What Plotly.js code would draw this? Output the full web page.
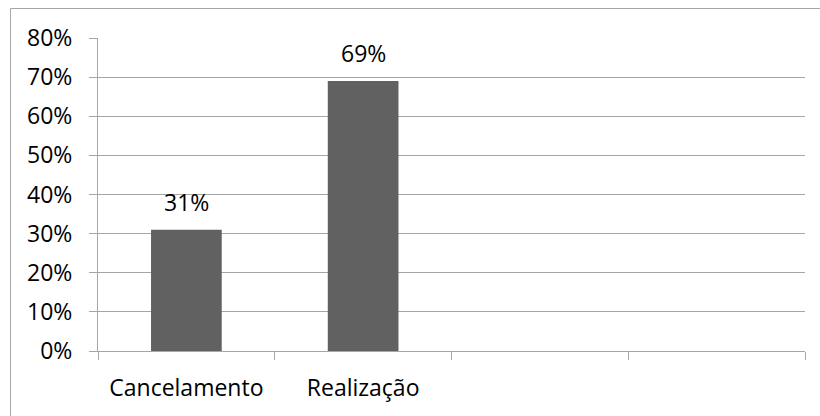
<!DOCTYPE html>
<html>
<head>
<meta charset="utf-8">
<script src="https://cdn.plot.ly/plotly-3.0.1.min.js"></script>
<style>
  html, body { margin: 0; padding: 0; background: #fff; }
  #chart { width: 820px; height: 416px; }
</style>
</head>
<body>
<div id="chart"></div>
<script>
// Share of events by outcome; the two trailing slots are empty categories.
const categories = ['Cancelamento', 'Realização', ' ', '  '];
const shares = [0.31, 0.69, null, null];
const labels = ['31%', '69%'];
const yTicks = [0, 0.1, 0.2, 0.3, 0.4, 0.5, 0.6, 0.7, 0.8];

const FONT = { family: 'Open Sans, sans-serif', size: 23, color: '#000' };
const GRID = '#a6a6a6';

const bars = {
  type: 'bar',
  x: categories,
  y: shares,
  marker: { color: '#616161', line: { width: 0 } },
  hoverinfo: 'skip'
};

// Value labels sit above each bar
const valueNotes = labels.map((t, i) => ({
  x: categories[i], y: shares[i], xref: 'x', yref: 'y',
  text: t, showarrow: false, yanchor: 'bottom', yshift: 10,
  font: FONT
}));

// Chart-area frame (top and left edges visible)
const frame = {
  type: 'rect', xref: 'paper', yref: 'paper',
  x0: (10.5 - 98) / 707, x1: 1.2,
  y0: -0.3, y1: (351 - 8.5) / 313,
  line: { color: GRID, width: 1 }, fillcolor: 'rgba(0,0,0,0)'
};

const layout = {
  width: 820, height: 416,
  margin: { l: 98, r: 15, t: 38, b: 65, pad: 0 },
  paper_bgcolor: '#fff', plot_bgcolor: '#fff',
  font: FONT,
  showlegend: false,
  bargap: 0.6,
  xaxis: {
    type: 'category',
    categoryorder: 'array', categoryarray: categories,
    range: [-0.5, 3.5],
    tickson: 'boundaries',
    ticks: 'outside', ticklen: 8, tickcolor: GRID, tickwidth: 1,
    showgrid: false, zeroline: false,
    showline: true, linecolor: GRID, linewidth: 1,
    ticklabelstandoff: 16,
    tickfont: FONT, fixedrange: true
  },
  yaxis: {
    range: [0, 0.8],
    tickvals: yTicks,
    tickformat: '.0%',
    ticks: 'outside', ticklen: 8, tickcolor: GRID, tickwidth: 1,
    showgrid: true, gridcolor: GRID, gridwidth: 1,
    zeroline: false,
    showline: true, linecolor: GRID, linewidth: 1,
    ticklabelstandoff: 12,
    tickfont: FONT, fixedrange: true
  },
  annotations: valueNotes,
  shapes: [frame]
};

Plotly.newPlot('chart', [bars], layout, { displayModeBar: false, staticPlot: true });
</script>
</body>
</html>
